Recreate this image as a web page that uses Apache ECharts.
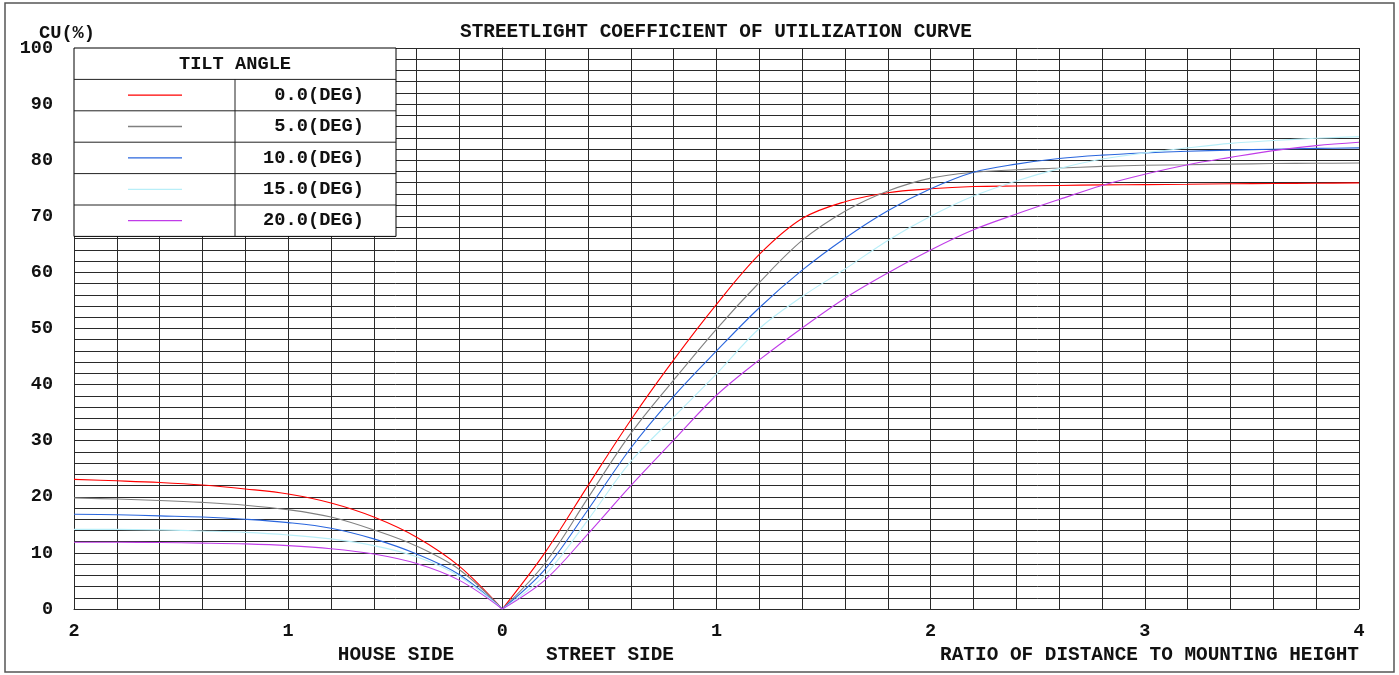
<!DOCTYPE html>
<html>
<head>
<meta charset="utf-8">
<script src="https://cdn.jsdelivr.net/npm/echarts@6/dist/echarts.min.js"></script>
<style>
html,body{margin:0;padding:0;background:#fff;}
#c{width:1399px;height:675px;}
</style>
</head>
<body>
<div id="c"></div>
<script>
// ---- data ----
const tiltNames = ['0.0(DEG)', '5.0(DEG)', '10.0(DEG)', '15.0(DEG)', '20.0(DEG)'];
const tiltColors = ['#ff0000', '#808080', '#2a66dd', '#b8eef8', '#c03ce8'];

// house side: ratio of distance to mounting height
const houseDist = [2.0, 1.8, 1.6, 1.4, 1.2, 1.0, 0.8, 0.6, 0.4, 0.2, 0];
const house0  = [23.1, 22.85, 22.55, 22.1, 21.4, 20.5, 18.9, 16.4, 12.8, 7.6, 0];
const house5  = [19.8, 19.6, 19.35, 19.0, 18.5, 17.7, 16.4, 14.1, 11.2, 7.0, 0];
const house10 = [16.9, 16.8, 16.6, 16.4, 16.0, 15.4, 14.4, 12.5, 9.8, 6.1, 0];
const house15 = [14.2, 14.2, 14.1, 13.9, 13.65, 13.2, 12.5, 11.3, 9.3, 5.8, 0];
const house20 = [11.9, 11.9, 11.85, 11.75, 11.6, 11.3, 10.75, 9.8, 8.1, 5.1, 0];

// street side
const streetDist = [0, 0.2, 0.4, 0.6, 0.8, 1.0, 1.2, 1.4, 1.6, 1.8, 2.0, 2.2, 2.4, 2.6, 2.8, 3.0, 3.2, 3.4, 3.6, 3.8, 4.0];
const street0  = [0, 10.1, 22.0, 33.7, 44.4, 54.3, 63.2, 69.6, 72.6, 74.2, 74.9, 75.3, 75.4, 75.5, 75.6, 75.65, 75.7, 75.8, 75.85, 75.9, 75.95];
const street5  = [0, 8.2, 19.8, 31.3, 40.8, 49.9, 58.2, 65.7, 70.9, 74.5, 76.8, 77.85, 78.3, 78.6, 78.9, 79.1, 79.2, 79.3, 79.4, 79.45, 79.5];
const street10 = [0, 7.1, 17.7, 28.7, 37.9, 46.0, 53.7, 60.4, 66.1, 71.0, 74.9, 77.85, 79.3, 80.3, 80.9, 81.3, 81.6, 81.8, 81.95, 82.1, 82.2];
const street15 = [0, 6.1, 15.9, 26.3, 34.2, 41.9, 50.0, 55.7, 60.6, 65.7, 70.0, 73.6, 76.3, 78.5, 80.2, 81.3, 82.2, 83.0, 83.5, 83.9, 84.2];
const street20 = [0, 5.2, 13.4, 22.0, 30.1, 38.1, 44.4, 50.1, 55.4, 59.9, 64.0, 67.6, 70.4, 73.0, 75.5, 77.5, 79.2, 80.5, 81.7, 82.6, 83.2];

const xTicks = [-2, -1, 0, 1, 2, 3, 4];
const yTicks = [0, 10, 20, 30, 40, 50, 60, 70, 80, 90, 100];

const houseSets = [house0, house5, house10, house15, house20];
const streetSets = [street0, street5, street10, street15, street20];

// ---- chart ----
const FONT = '"Liberation Mono", "Courier New", monospace';
const gridColor = '#2a2a2a';
const TITLE_FONT = 'bold 19.4px ' + FONT;
const LEG_FONT = 'bold 18.7px ' + FONT;

const series = [];
tiltNames.forEach((name, i) => {
  series.push({
    name: name, type: 'line', smooth: 0.35, symbol: 'none',
    lineStyle: {color: tiltColors[i], width: 1.1},
    data: houseDist.map((d, k) => [-d, houseSets[i][k]]), z: 3
  });
  series.push({
    name: name, type: 'line', smooth: 0.35, symbol: 'none',
    lineStyle: {color: tiltColors[i], width: 1.1},
    data: streetDist.map((d, k) => [d, streetSets[i][k]]), z: 3
  });
});

// legend table (layout only)
const L = {x0: 74, x1: 396, xm: 235, y0: 48, rowH: 31.4, sx0: 128, sx1: 182, tx: 364};
const legendEls = [];
legendEls.push({type: 'rect', shape: {x: L.x0, y: L.y0, width: L.x1 - L.x0, height: L.rowH * 6},
  style: {fill: '#fff', stroke: '#000', lineWidth: 1}, z: 100});
legendEls.push({type: 'text', style: {text: 'TILT ANGLE', x: L.xm, y: L.y0 + L.rowH / 2 + 1, align: 'center', verticalAlign: 'middle',
  font: LEG_FONT, fill: '#111'}, z: 101});
tiltNames.forEach((name, i) => {
  const top = L.y0 + L.rowH * (i + 1);
  const cy = top + L.rowH / 2;
  legendEls.push({type: 'line', shape: {x1: L.x0, y1: top, x2: L.x1, y2: top}, style: {stroke: '#222', lineWidth: 1}, z: 101});
  legendEls.push({type: 'line', shape: {x1: L.sx0, y1: cy, x2: L.sx1, y2: cy}, style: {stroke: tiltColors[i], lineWidth: 1.3}, z: 101});
  legendEls.push({type: 'text', style: {text: name, x: L.tx, y: cy, align: 'right', verticalAlign: 'middle',
    font: LEG_FONT, fill: '#111'}, z: 101});
});
legendEls.push({type: 'line', shape: {x1: L.xm, y1: L.y0 + L.rowH, x2: L.xm, y2: L.y0 + L.rowH * 6}, style: {stroke: '#222', lineWidth: 1}, z: 101});

const textEls = [
  {type: 'rect', shape: {x: 5, y: 3, width: 1389, height: 669}, style: {fill: 'none', stroke: '#555', lineWidth: 1.5}, z: 0},
  {type: 'text', style: {text: 'STREETLIGHT COEFFICIENT OF UTILIZATION CURVE', x: 716, y: 32, align: 'center', verticalAlign: 'middle', font: TITLE_FONT, fill: '#111'}},
  {type: 'text', style: {text: 'CU(%)', x: 67, y: 33, align: 'center', verticalAlign: 'middle', font: LEG_FONT, fill: '#111'}},
  {type: 'text', style: {text: 'HOUSE SIDE', x: 396, y: 655, align: 'center', verticalAlign: 'middle', font: TITLE_FONT, fill: '#111'}},
  {type: 'text', style: {text: 'STREET SIDE', x: 610, y: 655, align: 'center', verticalAlign: 'middle', font: TITLE_FONT, fill: '#111'}},
  {type: 'text', style: {text: 'RATIO OF DISTANCE TO MOUNTING HEIGHT', x: 1359, y: 655, align: 'right', verticalAlign: 'middle', font: TITLE_FONT, fill: '#111'}}
];

const chart = echarts.init(document.getElementById('c'), null, {renderer: 'canvas'});
chart.setOption({
  backgroundColor: '#fff',
  animation: false,
  grid: {left: 74, right: 40, top: 48, bottom: 66, containLabel: false},
  xAxis: {
    type: 'value', min: xTicks[0], max: xTicks[xTicks.length - 1], interval: 1,
    axisLine: {show: true, lineStyle: {color: gridColor, width: 1}},
    axisTick: {show: false},
    axisLabel: {margin: 13, fontFamily: FONT, fontWeight: 'bold', fontSize: 18.5, color: '#111',
      formatter: v => String(Math.abs(v))},
    splitLine: {show: true, lineStyle: {color: gridColor, width: 1}},
    minorTick: {show: false, splitNumber: 5},
    minorSplitLine: {show: true, lineStyle: {color: gridColor, width: 1}}
  },
  yAxis: {
    type: 'value', min: yTicks[0], max: yTicks[yTicks.length - 1], interval: 10,
    axisLine: {show: true, lineStyle: {color: gridColor, width: 1}},
    axisTick: {show: false},
    axisLabel: {margin: 21, fontFamily: FONT, fontWeight: 'bold', fontSize: 18.5, color: '#111'},
    splitLine: {show: true, lineStyle: {color: gridColor, width: 1}},
    minorTick: {show: false, splitNumber: 5},
    minorSplitLine: {show: true, lineStyle: {color: gridColor, width: 1}}
  },
  series: series,
  graphic: {elements: textEls.concat(legendEls)}
});
</script>
</body>
</html>
